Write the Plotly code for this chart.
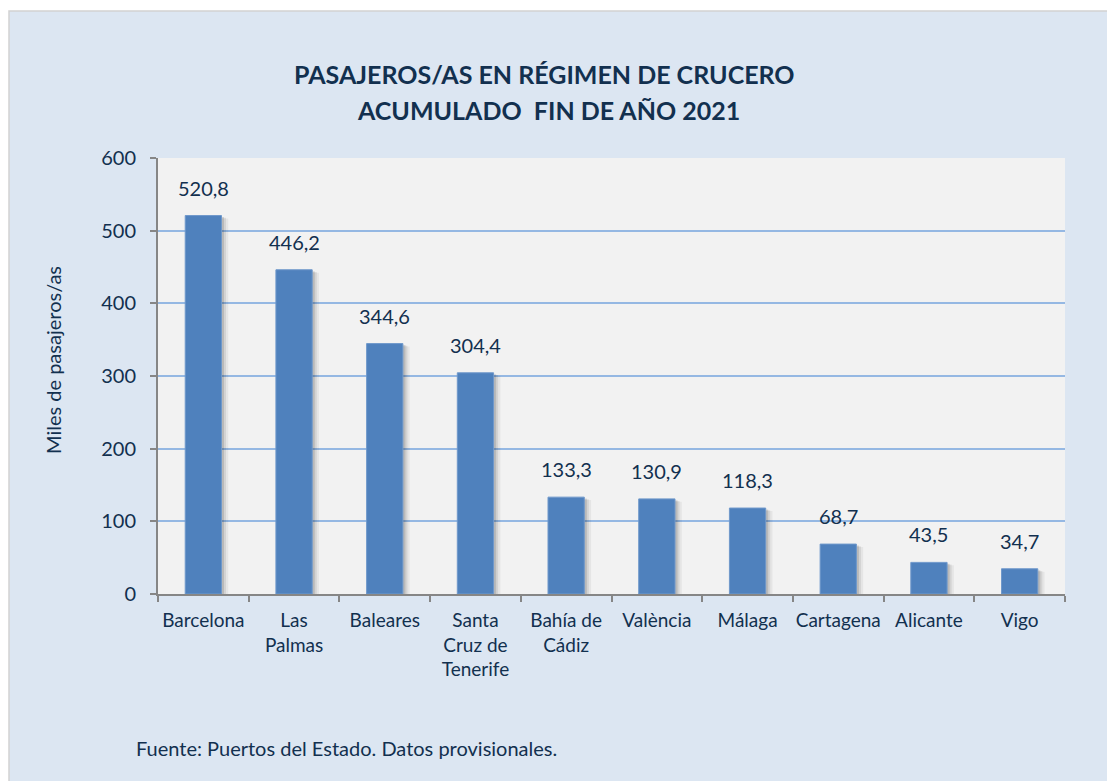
import plotly.graph_objects as go

categories = ["Barcelona", "Las Palmas", "Baleares", "Santa Cruz de Tenerife", "Bahía de Cádiz",
              "València", "Málaga", "Cartagena", "Alicante", "Vigo"]
tick_labels = ["Barcelona", "Las<br>Palmas", "Baleares", "Santa<br>Cruz de<br>Tenerife", "Bahía de<br>Cádiz",
               "València", "Málaga", "Cartagena", "Alicante", "Vigo"]
values = [520.8, 446.2, 344.6, 304.4, 133.3, 130.9, 118.3, 68.7, 43.5, 34.7]
value_labels = ["520,8", "446,2", "344,6", "304,4", "133,3", "130,9", "118,3", "68,7", "43,5", "34,7"]
y_ticks = [0, 100, 200, 300, 400, 500, 600]

TXT = "#12304F"
FONT = "Lato"
BAR_W = 0.4

fig = go.Figure()

# soft drop shadow layers
for dx, base, alpha in [(0.075, -4, 0.05), (0.05, -3, 0.08), (0.028, -2, 0.12)]:
    fig.add_trace(go.Bar(
        x=categories, y=values, base=base, width=BAR_W, offset=-BAR_W / 2 + dx,
        marker=dict(color=f"rgba(0,0,0,{alpha})", line=dict(width=0)),
        hoverinfo="skip", showlegend=False))

fig.add_trace(go.Bar(
    x=categories, y=values, width=BAR_W, offset=-BAR_W / 2,
    marker=dict(color="#4F81BD", line=dict(color="#6F98CB", width=1)),
    showlegend=False))

for c, v, t in zip(categories, values, value_labels):
    fig.add_annotation(x=c, y=v, text=t, showarrow=False, yshift=28,
                       font=dict(family=FONT, size=20, color=TXT))

def px(xp):
    return (xp - 158) / 907

def py(yp):
    return (594 - yp) / 436

# titles
fig.add_annotation(xref="paper", yref="paper", x=px(544), y=py(74), xanchor="center", yanchor="middle",
                   text="<b>PASAJEROS/AS EN RÉGIMEN DE CRUCERO</b>", showarrow=False,
                   font=dict(family=FONT, size=25, color=TXT))
fig.add_annotation(xref="paper", yref="paper", x=px(548), y=py(110), xanchor="center", yanchor="middle",
                   text="<b>ACUMULADO  FIN DE AÑO 2021</b>", showarrow=False,
                   font=dict(family=FONT, size=25, color=TXT))
fig.add_annotation(xref="paper", yref="paper", x=px(53), y=py(360), xanchor="center", yanchor="middle",
                   text="Miles de pasajeros/as", textangle=-90, showarrow=False,
                   font=dict(family=FONT, size=20, color=TXT))
fig.add_annotation(xref="paper", yref="paper", x=px(134), y=py(748), xanchor="left", yanchor="middle",
                   text="Fuente: Puertos del Estado. Datos provisionales.",
                   showarrow=False, font=dict(family=FONT, size=20, color=TXT))

# panel and plot background
fig.add_shape(type="rect", xref="paper", yref="paper", layer="below",
              x0=px(9), x1=1.2, y0=-0.6, y1=py(11),
              fillcolor="#DCE6F2", line=dict(color="#D2D2D2", width=1.5))
fig.add_shape(type="rect", xref="paper", yref="paper", layer="below",
              x0=0, x1=1, y0=0, y1=1, fillcolor="#F2F2F2", line=dict(width=0))

fig.update_layout(
    width=1107, height=781,
    margin=dict(l=158, r=42, t=158, b=187),
    paper_bgcolor="white", plot_bgcolor="rgba(0,0,0,0)",
    barmode="overlay",
    font=dict(family=FONT, size=19, color=TXT),
    xaxis=dict(type="category", tickvals=categories, ticktext=tick_labels,
               tickson="boundaries", ticks="outside", ticklen=6, tickcolor="#868686",
               tickwidth=2, showline=True, linecolor="#868686", linewidth=2,
               tickangle=0, ticklabelstandoff=8, showgrid=False,
               tickfont=dict(family=FONT, size=19, color=TXT),
               range=[-0.5, 9.5]),
    yaxis=dict(range=[0, 600], tickvals=y_ticks, ticks="outside", ticklen=6,
               tickcolor="#868686", tickwidth=2, showline=True, linecolor="#868686",
               linewidth=2, showgrid=True, gridcolor="#95B8E3", gridwidth=1.5,
               ticklabelstandoff=10, zeroline=False,
               tickfont=dict(family=FONT, size=20, color=TXT)),
)

fig.write_html("out.html", config={"displayModeBar": False},
               post_script="document.body.style.margin='0';document.body.style.overflow='hidden';")
